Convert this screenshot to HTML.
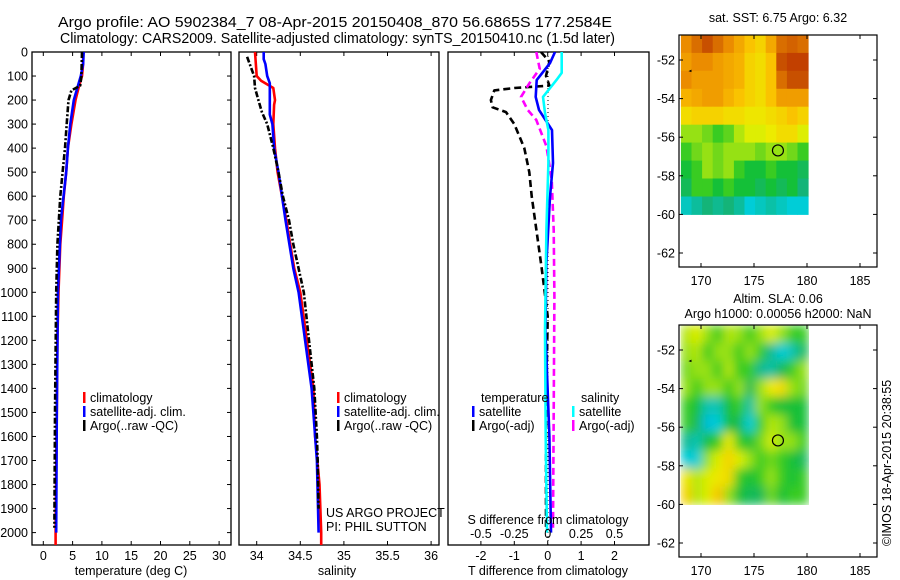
<!DOCTYPE html>
<html><head><meta charset="utf-8">
<style>
html,body{margin:0;padding:0;background:#fff;}
svg{display:block;font-family:"Liberation Sans",sans-serif;}
text{fill:#000;}
</style></head>
<body>
<svg id="c" width="900" height="580" viewBox="0 0 900 580">
<defs>
<clipPath id="cp1"><rect x="32" y="52" width="199" height="493"/></clipPath>
<clipPath id="cp2"><rect x="239" y="52" width="200" height="493"/></clipPath>
<clipPath id="cp3"><rect x="448" y="52" width="201" height="493"/></clipPath>
<filter id="blur" x="0" y="0" width="100%" height="100%"><feGaussianBlur stdDeviation="5"/></filter>
<clipPath id="cpm2"><rect x="679" y="325" width="130" height="180"/></clipPath>
</defs>
<text x="58" y="27" font-size="15" textLength="554" lengthAdjust="spacingAndGlyphs">Argo profile: AO 5902384_7 08-Apr-2015 20150408_870 56.6865S 177.2584E</text>
<text x="60" y="43" font-size="15" textLength="555" lengthAdjust="spacingAndGlyphs">Climatology: CARS2009. Satellite-adjusted climatology: synTS_20150410.nc (1.5d later)</text>
<g id="g"></g>
</svg>
<script>
// ---------- data ----------
const depthTicks = [0,100,200,300,400,500,600,700,800,900,1000,1100,1200,1300,1400,1500,1600,1700,1800,1900,2000];
const tTicks = [0,5,10,15,20,25,30];
const sTicks = [34,34.5,35,35.5,36];
const sTickLabels = ["34","34.5","35","35.5","36"];
const dtTicks = [-2,-1,0,1,2];
const dsTicks = [-0.5,-0.25,0,0.25,0.5];
const dsTickLabels = ["-0.5","-0.25","0","0.25","0.5"];

const climTDepth = [0,50,100,150,200,300,400,500,600,700,800,1000,1200,1500,2000,2054];
const climT      = [6.8,6.8,6.6,6.0,5.5,4.8,4.2,3.9,3.5,3.2,2.9,2.6,2.4,2.3,2.1,2.1];
const satTDepth  = [0,50,100,150,200,300,400,500,700,1000,1500,2000];
const satT       = [6.9,6.8,6.4,5.8,5.2,4.6,4.2,3.9,3.0,2.5,2.3,2.2];
const argoTDepth = [0,100,140,160,200,300,400,500,600,800,1000,1500,1980];
const argoT      = [6.6,6.5,6.3,4.8,4.3,4.0,3.7,3.3,2.9,2.4,2.2,2.0,1.9];

const climSDepth = [0,100,120,150,200,220,300,400,500,700,900,1000,1400,1600,1800,2000,2054];
const climS      = [33.98,34.0,34.05,34.19,34.21,34.2,34.19,34.21,34.24,34.34,34.43,34.5,34.65,34.67,34.72,34.74,34.74];
const satSDepth  = [0,30,50,100,130,150,260,300,400,500,700,900,1000,1400,1700,2000];
const satS       = [34.08,34.08,34.1,34.12,34.15,34.15,34.15,34.18,34.2,34.25,34.33,34.42,34.48,34.63,34.69,34.71];
const argoSDepth = [20,50,100,150,200,250,300,400,500,600,700,800,1000,1200,1400,1600,1700,1900];
const argoS      = [33.89,33.92,33.97,33.98,34.02,34.06,34.12,34.19,34.25,34.3,34.37,34.42,34.54,34.6,34.66,34.69,34.7,34.71];

const dTsatDepth = [0,46,117,187,241,325,462,603,878,1157,1600,2000];
const dTsat      = [0.22,0.07,-0.33,-0.36,-0.26,0.13,0.16,0.07,-0.04,-0.07,0.05,0.1];
const dSsatDepth = [0,87,117,187,254,325,462,740,1157,1600,2000];
const dSsat      = [0.105,0.105,0.065,-0.035,-0.02,0.005,0.005,-0.01,-0.02,-0.015,-0.005];
const dTargoDepth= [0,40,100,140,150,160,200,230,250,300,400,500,600,750,900,1100,1500,1980];
const dTargo     = [-0.2,0.05,-0.05,0.05,-1.0,-1.6,-1.7,-1.65,-1.25,-1.0,-0.7,-0.55,-0.48,-0.33,-0.18,0.0,-0.05,-0.05];
const dSargoDepth= [0,70,128,187,241,283,392,530,740,1018,1500,1980];
const dSargo     = [-0.085,-0.06,-0.135,-0.2,-0.15,-0.085,-0.01,0.03,0.045,0.05,0.045,0.04];

const sstGrid = [
[0.75,0.8,0.85,0.8,0.75,0.7,0.65,0.62,0.7,0.8,0.82,0.8],
[0.72,0.75,0.75,0.72,0.7,0.68,0.62,0.6,0.65,0.85,0.88,0.88],
[0.75,0.72,0.72,0.72,0.7,0.68,0.62,0.6,0.65,0.8,0.85,0.85],
[0.68,0.7,0.72,0.72,0.68,0.65,0.62,0.6,0.65,0.72,0.72,0.72],
[0.6,0.62,0.62,0.62,0.6,0.6,0.58,0.58,0.6,0.62,0.65,0.62],
[0.5,0.5,0.48,0.45,0.47,0.52,0.55,0.55,0.57,0.6,0.6,0.55],
[0.45,0.48,0.5,0.48,0.5,0.5,0.5,0.48,0.5,0.5,0.48,0.45],
[0.42,0.45,0.5,0.48,0.5,0.45,0.42,0.42,0.45,0.42,0.42,0.4],
[0.4,0.45,0.45,0.42,0.45,0.42,0.42,0.4,0.42,0.4,0.42,0.38],
[0.32,0.35,0.38,0.36,0.38,0.35,0.3,0.32,0.34,0.32,0.3,0.3]];
const slaGrid = [
[0.52,0.55,0.5,0.45,0.52,0.5,0.45,0.5,0.55,0.5,0.45,0.45],
[0.5,0.52,0.45,0.5,0.5,0.45,0.5,0.45,0.36,0.3,0.33,0.4],
[0.48,0.5,0.5,0.45,0.52,0.45,0.45,0.36,0.34,0.4,0.45,0.5],
[0.5,0.45,0.5,0.5,0.45,0.5,0.4,0.5,0.57,0.6,0.5,0.48],
[0.45,0.42,0.33,0.33,0.42,0.45,0.34,0.5,0.45,0.42,0.42,0.42],
[0.45,0.4,0.28,0.3,0.42,0.4,0.3,0.45,0.52,0.5,0.42,0.42],
[0.36,0.33,0.42,0.45,0.57,0.45,0.42,0.48,0.54,0.5,0.5,0.45],
[0.3,0.3,0.5,0.55,0.62,0.55,0.5,0.45,0.48,0.45,0.42,0.4],
[0.58,0.52,0.55,0.58,0.6,0.45,0.42,0.45,0.5,0.45,0.42,0.45],
[0.62,0.52,0.55,0.65,0.5,0.42,0.4,0.4,0.48,0.42,0.45,0.45]];
const lonTicks = [170,175,180,185];
const latTicks = [-52,-54,-56,-58,-60,-62];
const argoLon = 177.2584, argoLat = -56.6865;

// ---------- helpers ----------
const NS="http://www.w3.org/2000/svg";
const G=document.getElementById('g');
function mk(tag,attrs,parent){const e=document.createElementNS(NS,tag);for(const k in attrs)e.setAttribute(k,attrs[k]);(parent||G).appendChild(e);return e;}
function txt(x,y,s,size,anchor,parent){const e=mk('text',{x:x,y:y,'font-size':size||12.5,'text-anchor':anchor||'start'},parent);e.textContent=s;return e;}
const yD = d => 52 + d*0.2403;
const x1 = t => 43.3 + t*5.86;
const x2 = s => 256.7 + (s-34)*87.2;
const x3 = t => 547.7 + t*33.4;
const x3s = s => 547.7 + s*133.6;

function frame(x0,x1_,name){
  const r=mk('rect',{x:x0,y:52,width:x1_-x0,height:493,fill:'none',stroke:'#000','stroke-width':1.3});
  
  
}
function line(xs,ds,xf,color,dash,clip,name){
  let d='';
  for(let i=0;i<xs.length;i++){d+=(i?'L':'M')+xf(xs[i]).toFixed(1)+','+yD(ds[i]).toFixed(1);}
  const p=mk('path',{d:d,fill:'none',stroke:color,'stroke-width':2.6,'clip-path':'url(#'+clip+')','stroke-linejoin':'round'});
  if(dash)p.setAttribute('stroke-dasharray',dash);
  
  
}
function legendEntry(x,y,color,label,name){
  const g=mk('g',{});
  
  
  mk('rect',{x:x,y:y-10,width:2.5,height:11,fill:color},g);
  txt(x+7,y,label,12.5,'start',g);
}

// ---------- panel 1 ----------
frame(32,231,'temperature-panel');
depthTicks.forEach(d=>{
  const y=yD(d);
  mk('line',{x1:32,y1:y,x2:36,y2:y,stroke:'#000'});
  mk('line',{x1:227,y1:y,x2:231,y2:y,stroke:'#000'});
  const t=txt(28,y+4.5,String(d),12.5,'end');
  
  
});
tTicks.forEach((v,i)=>{
  const x=x1(v);
  mk('line',{x1:x,y1:52,x2:x,y2:56,stroke:'#000'});
  mk('line',{x1:x,y1:541,x2:x,y2:545,stroke:'#000'});
  txt(x,560,String(v),12.5,'middle');
});
txt(131,575,'temperature (deg C)',12.5,'middle');
line(climT,climTDepth,x1,'#f00',null,'cp1','temperature-climatology-line');
line(satT,satTDepth,x1,'#00f',null,'cp1','temperature-satellite-line');
line(argoT,argoTDepth,x1,'#000','6 2 2 2','cp1','temperature-argo-line');
legendEntry(83,402,'#f00','climatology','legend-climatology');
legendEntry(83,416,'#00f','satellite-adj. clim.','legend-satellite-adj');
legendEntry(83,430,'#000','Argo(..raw -QC)','legend-argo');

// ---------- panel 2 ----------
frame(239,439,'salinity-panel');
sTicks.forEach((v,i)=>{
  const x=x2(v);
  mk('line',{x1:x,y1:52,x2:x,y2:56,stroke:'#000'});
  mk('line',{x1:x,y1:541,x2:x,y2:545,stroke:'#000'});
  txt(x,560,sTickLabels[i],12.5,'middle');
});
txt(337,575,'salinity',12.5,'middle');
line(climS,climSDepth,x2,'#f00',null,'cp2','salinity-climatology-line');
line(satS,satSDepth,x2,'#00f',null,'cp2','salinity-satellite-line');
line(argoS,argoSDepth,x2,'#000','6 2 2 2','cp2','salinity-argo-line');
legendEntry(337,402,'#f00','climatology','legend-sal-climatology');
legendEntry(337,416,'#00f','satellite-adj. clim.','legend-sal-satellite-adj');
legendEntry(337,430,'#000','Argo(..raw -QC)','legend-sal-argo');
txt(326,517,'US ARGO PROJECT',12.5,'start');
txt(326,531,'PI: PHIL SUTTON',12.5,'start');

// ---------- panel 3 ----------
frame(448,649,'difference-panel');
mk('line',{x1:548,y1:52,x2:548,y2:545,stroke:'#000','stroke-dasharray':'1 3','stroke-width':1});
dtTicks.forEach(v=>{
  const x=x3(v);
  mk('line',{x1:x,y1:52,x2:x,y2:56,stroke:'#000'});
  mk('line',{x1:x,y1:541,x2:x,y2:545,stroke:'#000'});
  txt(x,560,String(v),12.5,'middle');
});
line(dTargo,dTargoDepth,x3,'#000','7 4','cp3','t-diff-argo-line');
line(dSargo,dSargoDepth,x3s,'#f0f','7 4','cp3','s-diff-argo-line');
line(dTsat,dTsatDepth,x3,'#00f',null,'cp3','t-diff-satellite-line');
line(dSsat,dSsatDepth,x3s,'#0ff',null,'cp3','s-diff-satellite-line');
dsTicks.forEach((v,i)=>{ txt(x3s(v),538,dsTickLabels[i],12.5,'middle'); });
txt(548,524,'S difference from climatology',12.5,'middle');
txt(548,575,'T difference from climatology',12.5,'middle');
txt(481,402,'temperature',12.5,'start');
legendEntry(472,416,'#00f','satellite','legend-t-satellite');
legendEntry(472,430,'#000','Argo(-adj)','legend-t-argo');
txt(581,402,'salinity',12.5,'start');
legendEntry(572,416,'#0ff','satellite','legend-s-satellite');
legendEntry(572,430,'#f0f','Argo(-adj)','legend-s-argo');

// ---------- maps ----------
const stops=[[0,[0,0,140]],[0.15,[0,100,230]],[0.3,[0,205,215]],[0.38,[20,180,120]],[0.43,[20,195,40]],[0.5,[150,225,20]],[0.56,[235,240,0]],[0.65,[250,195,0]],[0.75,[235,140,0]],[0.85,[200,80,0]],[1,[170,0,0]]];
function cmap(v){
  for(let i=1;i<stops.length;i++){ if(v<=stops[i][0]){const a=stops[i-1],b=stops[i];const f=(v-a[0])/(b[0]-a[0]);
    return 'rgb('+a[1].map((c,j)=>Math.round(c+(b[1][j]-c)*f)).join(',')+')';}}
  return 'rgb(170,0,0)';
}
function drawMap(top,grid,blur,name,title1,title2){
  const lonX = lon => 701 + (lon-170)*10.6;
  const latY = lat => top + 25 + (-52-lat)*19.3;
  const g=mk('g',{});
  
  
  const cells=mk('g',blur?{filter:'url(#blur)'}:{},blur?mk('g',{'clip-path':'url(#cpm2)'},g):g);
  const rows=grid.length, cols=grid[0].length;
  const x0=lonX(168.1), x1_=lonX(180.1), y0=latY(-50.7), y1_=latY(-60);
  const cw=(x1_-x0)/cols, ch=(y1_-y0)/rows;
  grid.forEach((row,r)=>row.forEach((v,c)=>{
    const e=mk('rect',{x:(x0+c*cw).toFixed(1),y:(y0+r*ch).toFixed(1),width:(cw+0.5).toFixed(1),height:(ch+0.5).toFixed(1),fill:cmap(v)},cells);
    
    
  }));
  mk('rect',{x:679,y:top,width:198,height:232,fill:'none',stroke:'#000','stroke-width':1.2},g);
  lonTicks.forEach(l=>{const x=lonX(l);
    mk('line',{x1:x,y1:top,x2:x,y2:top+4,stroke:'#000'},g);
    mk('line',{x1:x,y1:top+228,x2:x,y2:top+232,stroke:'#000'},g);
    txt(x,top+250,String(l),12.5,'middle',g);});
  latTicks.forEach(l=>{const y=latY(l);
    mk('line',{x1:679,y1:y,x2:683,y2:y,stroke:'#000'},g);
    mk('line',{x1:873,y1:y,x2:877,y2:y,stroke:'#000'},g);
    txt(675,y+4.5,String(l),12.5,'end',g);});
  const c=mk('circle',{cx:lonX(argoLon),cy:latY(argoLat),r:5.5,fill:'none',stroke:'#000','stroke-width':1.2},g);
  
  
  mk('path',{d:'M'+lonX(169.1)+','+(latY(-52.55)-1)+'l-3,1.5l3,1z',fill:'#000'},g);
  if(title2){txt(778,top-22,title1,12.5,'middle',g);txt(778,top-7,title2,12.5,'middle',g);}
  else txt(778,top-13,title1,12.5,'middle',g);
}
drawMap(35,sstGrid,false,'sst-map','sat. SST: 6.75 Argo: 6.32',null);
drawMap(325,slaGrid,true,'sla-map','Altim. SLA: 0.06','Argo h1000: 0.00056 h2000: NaN');
const cr=txt(0,0,'\u00A9IMOS 18-Apr-2015 20:38:55',12.5,'start');
cr.setAttribute('transform','translate(891,546) rotate(-90)');


</script>
</body></html>
